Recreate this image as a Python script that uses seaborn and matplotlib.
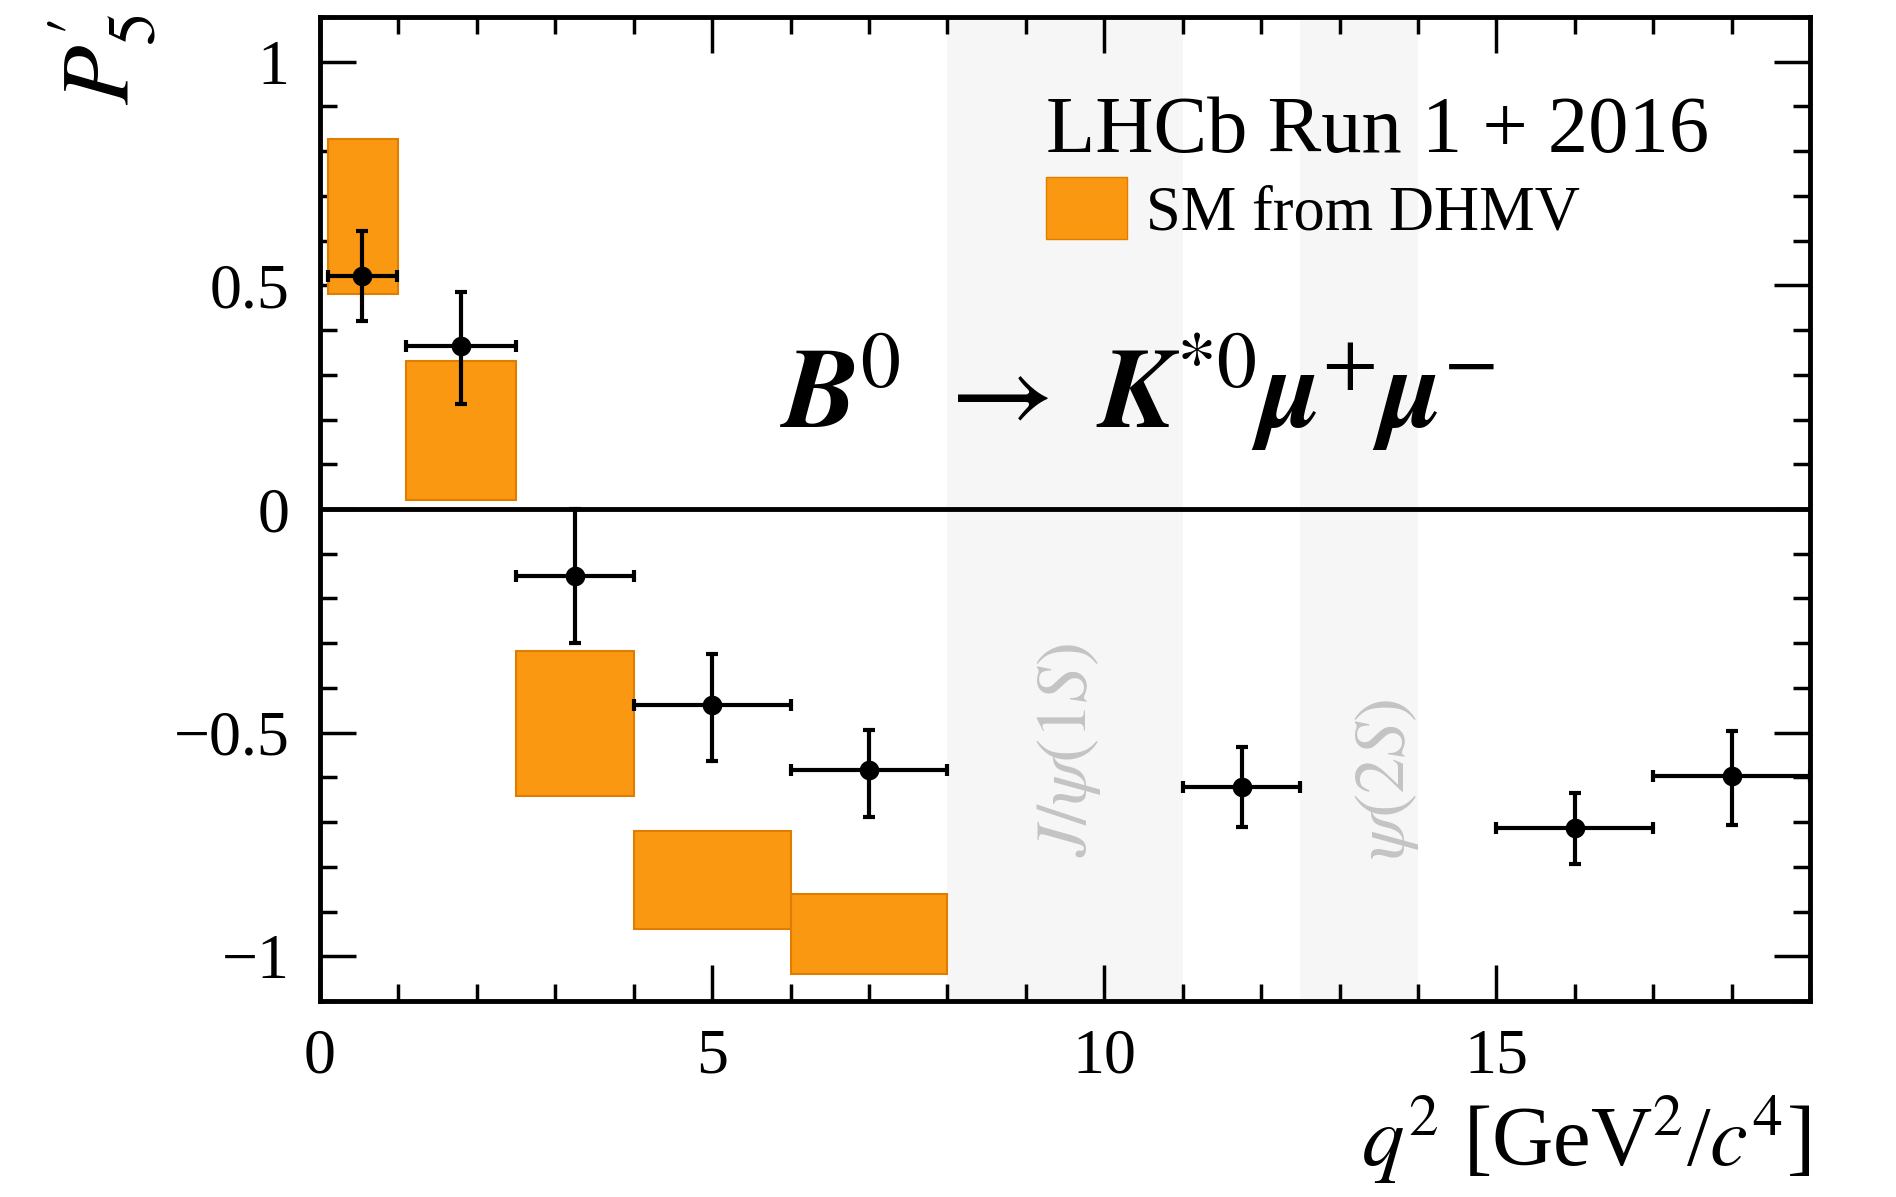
import numpy as np
import pandas as pd
import matplotlib
matplotlib.use("Agg")
import matplotlib.pyplot as plt
import seaborn as sns
from matplotlib.patches import Patch

# ---- data ----
bin_lo = [0.1, 1.1, 2.5, 4.0, 6.0, 11.0, 15.0, 17.0]
bin_hi = [0.98, 2.5, 4.0, 6.0, 8.0, 12.5, 17.0, 19.0]
q2_point = [0.54, 1.8, 3.25, 5.0, 7.0, 11.75, 16.0, 18.0]
p5_val = [0.521, 0.365, -0.150, -0.439, -0.583, -0.622, -0.714, -0.597]
p5_err_up = [0.10, 0.12, 0.15, 0.115, 0.09, 0.09, 0.08, 0.10]
p5_err_dn = [0.10, 0.13, 0.15, 0.125, 0.105, 0.09, 0.08, 0.11]

sm_lo = [0.1, 1.1, 2.5, 4.0, 6.0]
sm_hi = [1.0, 2.5, 4.0, 6.0, 8.0]
sm_min = [0.48, 0.02, -0.642, -0.94, -1.04]
sm_max = [0.828, 0.33, -0.317, -0.72, -0.86]

veto_lo = [8.0, 12.5]
veto_hi = [11.0, 14.0]
veto_labels = [r"$J/\psi(1S)$", r"$\psi(2S)$"]
veto_label_pos = [(9.55, -0.54), (13.6, -0.605)]

xticks = [0, 5, 10, 15]
yticks = [-1, -0.5, 0, 0.5, 1]
ytick_labels = ["\u22121", "\u22120.5", "0", "0.5", "1"]

df = pd.DataFrame({"q2": q2_point, "P5p": p5_val})

sns.set_theme(style="ticks")
plt.rcParams["font.family"] = ["Liberation Serif", "DejaVu Serif"]
plt.rcParams["mathtext.fontset"] = "stix"
plt.rcParams["text.color"] = "black"
plt.rcParams["axes.labelcolor"] = "black"
plt.rcParams["xtick.color"] = "black"
plt.rcParams["ytick.color"] = "black"

fig = plt.figure(figsize=(18.96, 11.97), dpi=100)
ax = fig.add_axes([0.1688, 0.1637, 0.7859, 0.8221])
ax.set_facecolor("white")

# veto bands
for lo, hi in zip(veto_lo, veto_hi):
    ax.axvspan(lo, hi, color="#f6f6f6", lw=0, zorder=0)
for lab, (x, y) in zip(veto_labels, veto_label_pos):
    ax.text(x, y, lab, rotation=90, ha="center", va="center",
            fontsize=52, color="#c4c4c4", zorder=1)

# SM boxes
orange = "#fb9812"
ax.bar(x=sm_lo, height=np.array(sm_max) - np.array(sm_min),
       width=np.array(sm_hi) - np.array(sm_lo), bottom=sm_min, align="edge",
       color=orange, edgecolor="#e07c00", linewidth=1.5, zorder=2)

# zero line
ax.axhline(0, color="black", lw=3.5, zorder=3)

# data points
xerr = [np.array(q2_point) - np.array(bin_lo), np.array(bin_hi) - np.array(q2_point)]
yerr = [p5_err_dn, p5_err_up]
ax.errorbar(q2_point, p5_val, xerr=xerr, yerr=yerr, fmt="none", ecolor="black",
            elinewidth=3.0, capsize=4, capthick=3.0, zorder=4)
sns.scatterplot(data=df, x="q2", y="P5p", ax=ax, color="black", s=200,
                edgecolor="black", linewidth=0, zorder=5)

ax.set_xlim(0, 19)
ax.set_ylim(-1.1, 1.1)
ax.set_xticks(xticks)
ax.set_xticklabels([str(t) for t in xticks])
ax.set_yticks(yticks)
ax.set_yticklabels(ytick_labels)
ax.set_xticks(np.arange(0, 19.01, 1), minor=True)
ax.set_yticks(np.arange(-1.1, 1.101, 0.1), minor=True)
ax.tick_params(which="both", direction="in", top=True, right=True,
               colors="black", width=2.5)
ax.tick_params(which="major", length=26, labelsize=46)
ax.tick_params(which="minor", length=12)
ax.tick_params(axis="y", which="major", pad=22)
ax.tick_params(axis="x", which="major", pad=20)
for sp in ax.spines.values():
    sp.set_linewidth(3.5)
    sp.set_color("black")
ax.set_xlabel("")
ax.set_ylabel("")

# labels
ax.text(1.0, -0.168, r"$q^2$ [GeV$^2$/$c^4$]", transform=ax.transAxes,
        ha="right", va="baseline", fontsize=61, color="black")
fig.text(0.054, 0.912, r"$P_5'$", rotation=90, ha="center", va="bottom",
         fontsize=70, color="black")

# decay label
ax.text(10.42, 0.262,
        r"$\mathbfit{B}^{0}\ \rightarrow\ \mathbfit{K}^{*0}\mathbfit{\mu}^{+}\mathbfit{\mu}^{-}$",
        ha="center", va="center", fontsize=82, color="black")

# legend
leg = ax.legend(handles=[Patch(facecolor=orange, edgecolor="#e07c00",
                               label="SM from DHMV")],
                title="LHCb Run 1 + 2016", loc="upper left",
                bbox_to_anchor=(0.487, 0.92), frameon=False,
                fontsize=45, title_fontsize=58, alignment="left",
                handlelength=1.3, handleheight=1.15, handletextpad=0.3,
                borderpad=0.0, borderaxespad=0.0, labelspacing=0.2,
                labelcolor="black")
leg.get_title().set_color("black")
leg._legend_box.sep = 6

fig.savefig("out.png", dpi=100, facecolor="white")
